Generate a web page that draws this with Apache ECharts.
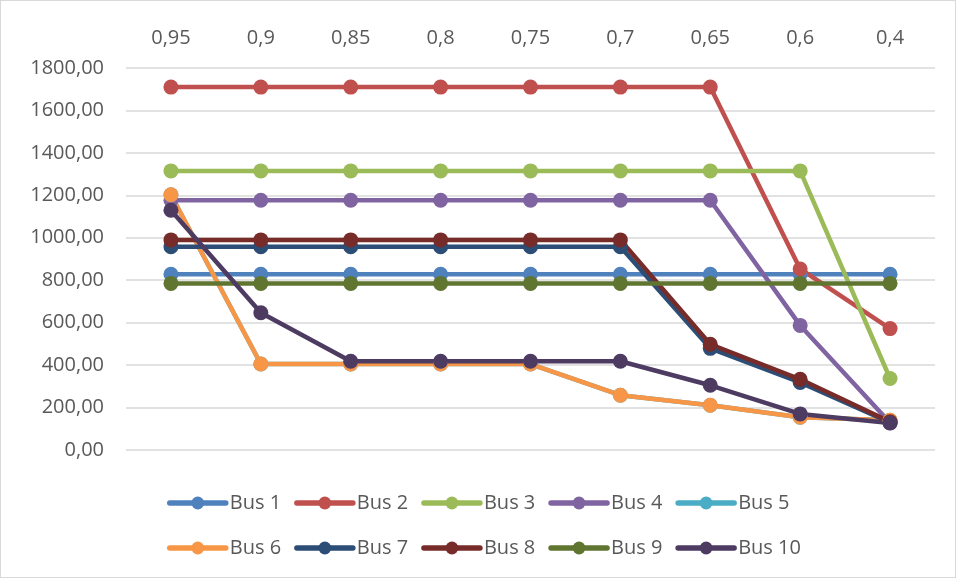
<!DOCTYPE html>
<html>
<head>
<meta charset="utf-8">
<script src="https://cdn.jsdelivr.net/npm/echarts@6/dist/echarts.min.js"></script>
<style>
  html, body { margin: 0; padding: 0; background: #fff; }
  #chart { width: 954px; height: 576px; border: 1px solid #d9d9d9; }
</style>
</head>
<body>
<div id="chart"></div>
<script>
// Power factor steps along the top axis
var categories = ['0,95', '0,9', '0,85', '0,8', '0,75', '0,7', '0,65', '0,6', '0,4'];

// Values per bus
var bus1  = [828, 828, 828, 828, 828, 828, 828, 828, 828];
var bus2  = [1710, 1710, 1710, 1710, 1710, 1710, 1710, 853, 572];
var bus3  = [1315, 1315, 1315, 1315, 1315, 1315, 1315, 1315, 337];
var bus4  = [1177, 1177, 1177, 1177, 1177, 1177, 1177, 587, 128];
var bus5  = [1203, 405, 405, 405, 405, 258, 211, 154, 140];
var bus6  = [1203, 405, 405, 405, 405, 258, 211, 154, 140];
var bus7  = [958, 958, 958, 958, 958, 958, 479, 318, 130];
var bus8  = [990, 990, 990, 990, 990, 990, 498, 333, 133];
var bus9  = [785, 785, 785, 785, 785, 785, 785, 785, 785];
var bus10 = [1130, 647, 418, 418, 418, 418, 305, 170, 127];

var seriesNames = ['Bus 1', 'Bus 2', 'Bus 3', 'Bus 4', 'Bus 5', 'Bus 6', 'Bus 7', 'Bus 8', 'Bus 9', 'Bus 10'];
var seriesValues = [bus1, bus2, bus3, bus4, bus5, bus6, bus7, bus8, bus9, bus10];
var palette = ['#4F81BD', '#C0504D', '#9BBB59', '#8064A2', '#4BACC6',
               '#F79646', '#2C4D75', '#772C2A', '#5F7530', '#4D3B62'];

var fontFamily = '"Open Sans", "Liberation Sans", sans-serif';
var textColor = '#595959';

var chart = echarts.init(document.getElementById('chart'));

var legendCommon = {
  orient: 'horizontal',
  padding: 0,
  itemWidth: 56,
  itemHeight: 16,
  itemGap: 13,
  lineStyle: { width: 5.5, cap: 'round' },
  textStyle: { fontSize: 20, color: textColor, fontFamily: fontFamily, padding: [0, 0, 0, -1] }
};

chart.setOption({
  animation: false,
  color: palette,
  grid: { left: 125, right: 20, top: 67, bottom: 127 },
  legend: [
    Object.assign({ left: 166, top: 492, data: seriesNames.slice(0, 5) }, legendCommon),
    Object.assign({ left: 166, top: 537, data: seriesNames.slice(5) }, legendCommon)
  ],
  xAxis: {
    type: 'category',
    position: 'top',
    data: categories,
    boundaryGap: true,
    axisLine: { show: false },
    axisTick: { show: false },
    axisLabel: { fontSize: 20, color: textColor, fontFamily: fontFamily, margin: 20 }
  },
  yAxis: {
    type: 'value',
    min: 0,
    max: 1800,
    interval: 200,
    axisLine: { show: false },
    axisTick: { show: false },
    splitLine: { lineStyle: { color: '#d9d9d9', width: 1.5 } },
    axisLabel: {
      fontSize: 20, color: textColor, fontFamily: fontFamily, margin: 22,
      formatter: function (v) { return v.toFixed(2).replace('.', ','); }
    }
  },
  series: seriesNames.map(function (name, i) {
    return {
      name: name,
      type: 'line',
      data: seriesValues[i],
      symbol: 'circle',
      symbolSize: 15,
      lineStyle: { width: 4.5, color: palette[i], cap: 'round', join: 'round' },
      itemStyle: { color: palette[i] }
    };
  })
});
</script>
</body>
</html>
